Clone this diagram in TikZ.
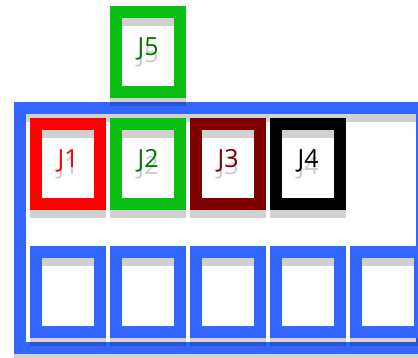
\documentclass[tikz,border=0pt]{standalone}
\usepackage{fontspec}
\setmainfont{Open Sans}
\usetikzlibrary{matrix,positioning}

\definecolor{jred}{RGB}{255,0,0}
\definecolor{jgreen}{RGB}{10,190,20}
\definecolor{jgreentext}{RGB}{0,120,0}
\definecolor{jmaroon}{RGB}{128,0,0}
\definecolor{jblue}{RGB}{51,102,255}

\newcommand\shadowlbl[1]{\rlap{\raisebox{-7pt}{\textcolor{black!20}{#1}}}#1}

\tikzset{
  shadowed/.style={preaction={draw=black, draw opacity=.18, transform canvas={yshift=-8pt}}},
  job/.style={draw, line width=12pt, minimum width=64pt, minimum height=80pt,
    inner sep=0pt, shadowed, font=\fontsize{25}{30}\selectfont},
  slot/.style={job, draw=jblue},
}

\begin{document}
\begin{tikzpicture}[x=1pt, y=-1pt]
  \useasboundingbox (0,0) rectangle (418,357);
  \clip (0,0) rectangle (418,357);
  \node (frame) [draw=jblue, line width=12pt, minimum width=402pt,
    minimum height=240pt, shadowed] at (221,228) {};
  \matrix (grid) [anchor=north west, inner sep=0pt,
    column sep=4pt, row sep=36pt] at (30,118) {
  \node (j1) [job, draw=jred, text=jred] {\shadowlbl{J1}}; &
  \node (j2) [job, draw=jgreen, text=jgreentext] {\shadowlbl{J2}}; &
  \node (j3) [job, draw=jmaroon, text=jmaroon] {\shadowlbl{J3}}; &
  \node (j4) [job, draw=black, text=black] {\shadowlbl{J4}}; & \\
  \node (s1) [slot] {}; & \node (s2) [slot] {}; & \node (s3) [slot] {}; &
  \node (s4) [slot] {}; & \node (s5) [slot] {}; \\};
  \node (j5) [job, draw=jgreen, text=jgreentext, above=20pt of j2] {\shadowlbl{J5}};
\end{tikzpicture}
\end{document}
